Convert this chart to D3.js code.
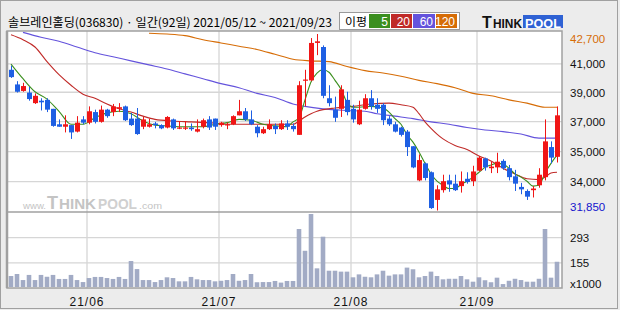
<!DOCTYPE html>
<html>
<head>
<meta charset="utf-8">
<script src="https://cdn.jsdelivr.net/npm/d3@7"></script>
<style>
  body { margin: 0; background: #ececec; }
  svg { display: block; }
  text { font-family: "Liberation Sans", Arial, sans-serif; }
</style>
</head>
<body>
<script>
// trading days, 2021
var dates = [
  "05/12","05/13","05/14","05/17","05/18","05/20","05/21","05/24","05/25","05/26","05/27","05/28","05/31",
  "06/01","06/02","06/03","06/04","06/07","06/08","06/09","06/10","06/11","06/14","06/15","06/16","06/17",
  "06/18","06/21","06/22","06/23","06/24","06/25","06/28","06/29","06/30",
  "07/01","07/02","07/05","07/06","07/07","07/08","07/09","07/12","07/13","07/14","07/15","07/16","07/19",
  "07/20","07/21","07/22","07/23","07/26","07/27","07/28","07/29","07/30",
  "08/02","08/03","08/04","08/05","08/06","08/09","08/10","08/11","08/12","08/13","08/17","08/18","08/19",
  "08/20","08/23","08/24","08/25","08/26","08/27","08/30","08/31",
  "09/01","09/02","09/03","09/06","09/07","09/08","09/09","09/10","09/13","09/14","09/15","09/16","09/17","09/23"
];

var open = [40500,39600,39200,39100,38450,38600,38650,38100,37150,37000,37100,36700,37450,
  37250,37900,37300,38050,37900,38100,38250,37500,37500,37000,37000,37200,37100,36950,37450,36900,36900,36950,36700,37000,37450,37500,
  37100,37100,37150,37700,37950,37450,37000,36600,36850,37050,36850,37200,37050,36500,39850,39850,42150,
  41900,38750,38050,38100,38650,
  38100,37150,38100,38750,38350,38350,37500,37150,36950,36700,35800,33700,34750,34200,32500,33100,33700,33500,33350,33800,33650,
  34300,35050,34450,34500,34900,34450,33950,33300,33050,33100,33400,33900,35750,35150];
var high = [40750,39800,39700,39450,39050,38750,38750,38100,37450,37700,37100,37650,37650,
  38250,38050,38300,38100,38400,38450,38300,37850,38150,37600,37500,37300,37150,37650,37500,37350,37350,37200,37450,37500,37650,37500,
  37300,37250,37700,38650,38150,38000,37100,37000,37450,37200,37400,37400,37200,39800,40500,42450,42700,
  42000,39550,38850,39550,39150,
  38350,38600,39000,39250,38750,38450,37650,37300,37000,36800,35800,35300,34800,34250,33400,34050,34050,34050,34250,34200,34600,
  35200,35100,34850,35400,35000,34650,34350,33550,33150,33350,34450,37450,36100,38250];
var low = [40000,39100,39150,38600,38400,38000,37900,37000,37000,36650,36250,36650,37150,
  37150,37200,37250,37550,37650,37900,37350,37050,36500,36850,36950,36900,36850,36900,36800,36850,36800,36750,36650,36900,36800,36800,
  37000,36850,37100,37700,37350,37100,36350,36550,36800,36550,36800,36800,36700,36500,38250,39800,41400,
  38750,38250,37300,37600,37700,
  37250,37100,38050,38050,37850,37100,37050,36650,36400,35200,34450,33650,33700,31950,31850,32950,33000,33050,32950,33500,33350,
  34250,34300,34150,34150,34350,33700,33050,32850,32500,32650,33250,33700,34750,34800];
var close = [40050,39150,39500,38700,38900,38500,38050,37050,37000,37150,36650,37250,37250,
  37950,37300,38050,37650,38250,38200,37400,37100,36550,37450,37150,37100,36900,37600,36900,36950,36950,36850,36850,37400,36950,37000,
  37250,37150,37650,37950,37450,37150,36600,36850,37150,36850,37200,37000,36850,39550,39900,42150,42250,
  38900,38450,37550,39300,37900,
  37450,38050,38750,38250,38100,37400,37150,36700,36500,35750,34500,34950,33850,32000,33150,33650,33450,33100,33650,33600,34250,
  35100,34500,34550,34850,34450,33900,33500,33150,32700,33200,34050,36100,35100,37700];

// volume, x1000 shares
var volume = [80,91,58,86,58,86,76,86,64,64,86,58,47,
  69,75,75,69,64,75,64,162,118,58,58,47,58,73,69,51,51,75,62,58,58,51,
  54,58,91,54,58,91,46,47,47,53,44,53,53,337,218,419,122,
  295,109,109,104,104,
  73,89,76,73,89,109,82,89,89,126,117,73,80,104,80,62,65,65,80,62,49,
  73,57,46,71,36,54,65,58,49,49,65,337,71,158];

// moving averages, [day index, price]
var ma5 = [[0,40850],[2,39950],[4,39150],[6,38700],[8,37950],[10,37150],[12,37150],[14,37550],[16,37850],
  [18,37950],[20,37800],[22,37350],[24,37100],[26,37050],[28,37000],[30,37000],[32,37000],[34,37150],[36,37250],
  [38,37450],[40,37400],[42,37150],[44,37050],[46,37000],[47,37300],[48,37550],[49,38650],[50,39750],[51,40300],
  [52,40500],[53,40350],[54,39850],[55,39300],[56,38500],[57,38200],[58,38200],[60,38250],[62,38150],[63,37900],
  [64,37500],[65,37150],[66,36500],[67,36050],[68,35450],[69,34750],[70,34100],[71,33650],[72,33400],[73,33200],
  [74,33200],[75,33450],[76,33650],[77,33900],[78,34200],[79,34500],[80,34650],[81,34750],[82,34700],[83,34450],
  [84,34100],[85,33900],[86,33650],[87,33350],[88,33400],[89,34150],[90,34750],[91,35250]];
var ma20 = [[0,42650],[2,42350],[4,41900],[6,41000],[8,40200],[10,39550],[12,39000],[14,38750],[16,38400],
  [18,38100],[20,37900],[22,37650],[24,37450],[27,37350],[30,37300],[33,37250],[36,37150],[40,37150],[44,37150],
  [47,37150],[48,37350],[49,37600],[50,37800],[51,37950],[52,38050],[54,38150],[57,38250],[60,38400],[63,38450],
  [65,38350],[67,38200],[68,37800],[69,37300],[70,36900],[71,36550],[72,36250],[74,35850],[76,35600],[78,35200],
  [80,34900],[82,34450],[84,34100],[86,33800],[88,33750],[89,33900],[90,34150],[91,34200]];
var ma60 = [[2,42800],[5,42500],[8,42250],[11,41900],[14,41550],[17,41300],[20,41050],[23,40800],[26,40550],
  [29,40250],[32,39950],[35,39650],[38,39400],[41,39050],[44,38800],[47,38400],[49,38250],[52,38100],[56,38000],
  [59,37950],[61,37800],[64,37650],[67,37500],[70,37300],[73,37150],[76,36950],[79,36800],[82,36700],[85,36550],
  [88,36300],[91,36300]];
var ma120 = [[23,42750],[26,42700],[29,42600],[32,42350],[35,42150],[38,41950],[41,41750],[44,41450],[47,41150],
  [50,41050],[53,41000],[56,40700],[59,40450],[62,40300],[65,40100],[68,39850],[71,39650],[74,39400],[77,39050],
  [80,38900],[83,38650],[86,38450],[89,38200],[91,38200]];

// axis labels
var priceTicks = [40900, 39150, 37350, 35500, 33650];
var priceTickLabels = ["41,000", "39,000", "37,000", "35,000", "34,000"];
var priceMax = 42700, priceMin = 31850;
var volTicks = [155, 293];
var monthStarts = ["06/01", "07/01", "08/02", "09/01"];
var monthLabels = ["21/06", "21/07", "21/08", "21/09"];
var maNames = ["5", "20", "60", "120"];

// layout
var W = 620, H = 310,
    plot = {left: 7, right: 562, top: 31, mid: 212, bottom: 288};

var colors = {up: '#f01616', down: '#1e5fe3', ma5: '#3b8f1f', ma20: '#c02a28', ma60: '#6453dc', ma120: '#d66c06',
              vol: '#a2abc5', grid: '#d6d6d6', frame: '#a0a0a0'};

// scales
var x = d3.scalePoint().domain(dates).range([11, 557]);
var y = d3.scaleLinear().domain([priceMin, priceMax]).range([210.5, 34]);
var yv = d3.scaleLinear().domain([20, 430]).range([287, 212]);

var svg = d3.select('body').append('svg')
    .attr('width', W)
    .attr('height', H);

svg.append('rect').attr('width', W).attr('height', H).attr('fill', '#ececec');
svg.append('rect')
    .attr('x', 0.5).attr('y', 0.5).attr('width', W - 3).attr('height', H - 2)
    .attr('fill', 'none').attr('stroke', colors.frame);

// plot background
svg.append('rect')
    .attr('x', plot.left).attr('y', plot.top)
    .attr('width', plot.right - plot.left).attr('height', plot.bottom - plot.top)
    .attr('fill', '#fff');

svg.append('clipPath').attr('id', 'clipPrice')
  .append('rect')
    .attr('x', plot.left).attr('y', plot.top)
    .attr('width', plot.right - plot.left).attr('height', plot.mid - plot.top);

// gridlines
svg.append('g')
    .attr('class', 'grid')
    .attr('transform', 'translate(' + plot.left + ',0)')
    .call(d3.axisLeft(y).tickValues(priceTicks).tickSize(-(plot.right - plot.left)).tickFormat(''));
svg.append('g')
    .attr('class', 'grid')
    .attr('transform', 'translate(' + plot.left + ',0)')
    .call(d3.axisLeft(yv).tickValues(volTicks).tickSize(-(plot.right - plot.left)).tickFormat(''));
svg.append('g')
    .attr('class', 'grid')
    .attr('transform', 'translate(-2.5,' + plot.bottom + ')')
    .call(d3.axisBottom(x).tickValues(monthStarts).tickSize(-(plot.bottom - plot.top)).tickFormat(''));
svg.selectAll('.grid .domain').remove();
svg.selectAll('.grid line').attr('stroke', colors.grid).attr('stroke-width', 1.3);

// watermark
var wm = svg.append('g')
    .attr('fill', '#c4c4c4')
    .style('font-family', '"DejaVu Sans", sans-serif');
wm.append('text').attr('x', 23).attr('y', 209).attr('font-size', 8.5)
    .attr('textLength', 23).attr('lengthAdjust', 'spacingAndGlyphs').text('www.');
wm.append('text').attr('x', 47).attr('y', 209).attr('font-size', 18).attr('font-weight', 'bold').text('T');
wm.append('text').attr('x', 59).attr('y', 209).attr('font-size', 14).attr('font-weight', 'bold')
    .attr('textLength', 37).attr('lengthAdjust', 'spacingAndGlyphs').text('HINK');
wm.append('text').attr('x', 98).attr('y', 209).attr('font-size', 14).attr('font-weight', 'bold')
    .attr('fill', '#d0d0d0')
    .attr('textLength', 39).attr('lengthAdjust', 'spacingAndGlyphs').text('POOL');
wm.append('text').attr('x', 139).attr('y', 209).attr('font-size', 9)
    .attr('textLength', 23).attr('lengthAdjust', 'spacingAndGlyphs').text('.com');

// volume bars
svg.append('g').selectAll('rect')
    .data(volume)
    .enter().append('rect')
    .attr('x', function(d, i) { return x(dates[i]) - 2.3; })
    .attr('width', 4.6)
    .attr('y', function(d) { return yv(d); })
    .attr('height', function(d) { return yv.range()[0] - yv(d); })
    .attr('fill', colors.vol);

// moving averages
var maLine = d3.line()
    .x(function(d) { return x(dates[d[0]]); })
    .y(function(d) { return y(d[1]); })
    .curve(d3.curveMonotoneX);

var maG = svg.append('g').attr('clip-path', 'url(#clipPrice)');
[[ma120, colors.ma120], [ma60, colors.ma60], [ma20, colors.ma20], [ma5, colors.ma5]].forEach(function(m) {
    maG.append('path')
        .datum(m[0])
        .attr('d', maLine)
        .attr('fill', 'none')
        .attr('stroke', m[1])
        .attr('stroke-width', 1.1);
});

// candles
var candles = svg.append('g').selectAll('g')
    .data(dates)
    .enter().append('g');

candles.append('line')
    .attr('x1', function(d) { return Math.round(x(d)) + 0.5; })
    .attr('x2', function(d) { return Math.round(x(d)) + 0.5; })
    .attr('y1', function(d, i) { return y(high[i]); })
    .attr('y2', function(d, i) { return y(low[i]); })
    .attr('stroke', function(d, i) { return close[i] >= open[i] ? colors.up : colors.down; })
    .attr('stroke-width', 1);

candles.append('rect')
    .attr('x', function(d) { return Math.round(x(d)) - 2; })
    .attr('width', 5)
    .attr('y', function(d, i) { return y(Math.max(open[i], close[i])); })
    .attr('height', function(d, i) { return Math.max(1.2, Math.abs(y(open[i]) - y(close[i]))); })
    .attr('fill', function(d, i) { return close[i] >= open[i] ? colors.up : colors.down; });

// frame
svg.append('rect')
    .attr('x', plot.left).attr('y', plot.top)
    .attr('width', plot.right - plot.left).attr('height', plot.bottom - plot.top)
    .attr('fill', 'none').attr('stroke', colors.frame).attr('stroke-width', 1.5);
svg.append('line')
    .attr('x1', plot.left).attr('x2', plot.right)
    .attr('y1', plot.mid).attr('y2', plot.mid)
    .attr('stroke', colors.frame).attr('stroke-width', 1.5);
svg.append('line')
    .attr('x1', plot.left).attr('x2', plot.left)
    .attr('y1', plot.top).attr('y2', plot.bottom)
    .attr('stroke', colors.frame).attr('stroke-width', 2.5);

// price axis
var yAxis = svg.append('g')
    .attr('transform', 'translate(' + plot.right + ',1)')
    .call(d3.axisRight(y).tickValues(priceTicks).tickSize(0).tickPadding(8)
        .tickFormat(function(d, i) { return priceTickLabels[i]; }));
yAxis.select('.domain').remove();
yAxis.selectAll('text').attr('font-size', 11.5).attr('fill', '#111')
    .style('font-family', '"Liberation Sans", sans-serif');

svg.append('text')
    .attr('x', 570).attr('y', y(priceMax) + 8.5)
    .attr('font-size', 11.5).attr('fill', '#d66c06')
    .text(d3.format(',')(priceMax));
svg.append('text')
    .attr('x', 570).attr('y', y(priceMin) + 0.5)
    .attr('font-size', 11.5).attr('fill', '#1414cc')
    .text(d3.format(',')(priceMin));

// volume axis
var vAxis = svg.append('g')
    .attr('transform', 'translate(' + plot.right + ',1)')
    .call(d3.axisRight(yv).tickValues(volTicks).tickSize(0).tickPadding(8));
vAxis.select('.domain').remove();
vAxis.selectAll('text').attr('font-size', 11.5).attr('fill', '#111');
svg.append('text')
    .attr('x', 570).attr('y', 288)
    .attr('font-size', 11.5).attr('fill', '#111')
    .text('x1000');

// x axis
var xAxis = svg.append('g')
    .attr('transform', 'translate(-2.5,' + (plot.bottom + 6) + ')')
    .call(d3.axisBottom(x).tickValues(monthStarts).tickSize(0)
        .tickFormat(function(d, i) { return monthLabels[i]; }));
xAxis.select('.domain').remove();
xAxis.selectAll('text').attr('font-size', 12).attr('fill', '#111')
    .style('letter-spacing', '1px');

// title
svg.append('text')
    .attr('x', 8).attr('y', 27)
    .attr('font-size', 12).attr('fill', '#000')
    .attr('textLength', 324).attr('lengthAdjust', 'spacingAndGlyphs')
    .style('font-family', '"Noto Sans CJK KR", sans-serif')
    .text('솔브레인홀딩(036830) · 일간(92일) 2021/05/12 ~ 2021/09/23');

// moving average legend
var legend = svg.append('g');
legend.append('rect')
    .attr('x', 339.5).attr('y', 12.5).attr('width', 120).attr('height', 17)
    .attr('fill', '#fff').attr('stroke', '#9a9a9a');
legend.append('text')
    .attr('x', 345).attr('y', 26)
    .attr('font-size', 11)
    .attr('textLength', 22).attr('lengthAdjust', 'spacingAndGlyphs')
    .style('font-family', '"Noto Sans CJK KR", sans-serif')
    .text('이평');
var boxX = [369, 391, 413, 436], boxW = [21, 21, 22, 21],
    boxC = [colors.ma5, colors.ma20, colors.ma60, colors.ma120];
maNames.forEach(function(n, i) {
    legend.append('rect')
        .attr('x', boxX[i]).attr('y', 14).attr('width', boxW[i]).attr('height', 14)
        .attr('fill', boxC[i]);
    legend.append('text')
        .attr('x', boxX[i] + boxW[i] - 2).attr('y', 26)
        .attr('text-anchor', 'end')
        .attr('font-size', 12).attr('fill', '#fff')
        .text(n);
});

// logo
var logo = svg.append('g')
    .attr('font-weight', 'bold')
    .style('font-family', '"DejaVu Sans", sans-serif');
logo.append('rect')
    .attr('x', 523).attr('y', 15).attr('width', 40).attr('height', 13)
    .attr('fill', '#2f62d4');
logo.append('text').attr('x', 482).attr('y', 28)
    .attr('font-size', 16).attr('fill', '#111').text('T');
logo.append('text').attr('x', 493).attr('y', 28)
    .attr('font-size', 12.5).attr('fill', '#111')
    .attr('textLength', 29).attr('lengthAdjust', 'spacingAndGlyphs').text('HINK');
logo.append('text')
    .attr('x', 525).attr('y', 27.5)
    .attr('font-size', 13).attr('fill', '#fff')
    .attr('textLength', 36).attr('lengthAdjust', 'spacingAndGlyphs')
    .text('POOL');
</script>
</body>
</html>
